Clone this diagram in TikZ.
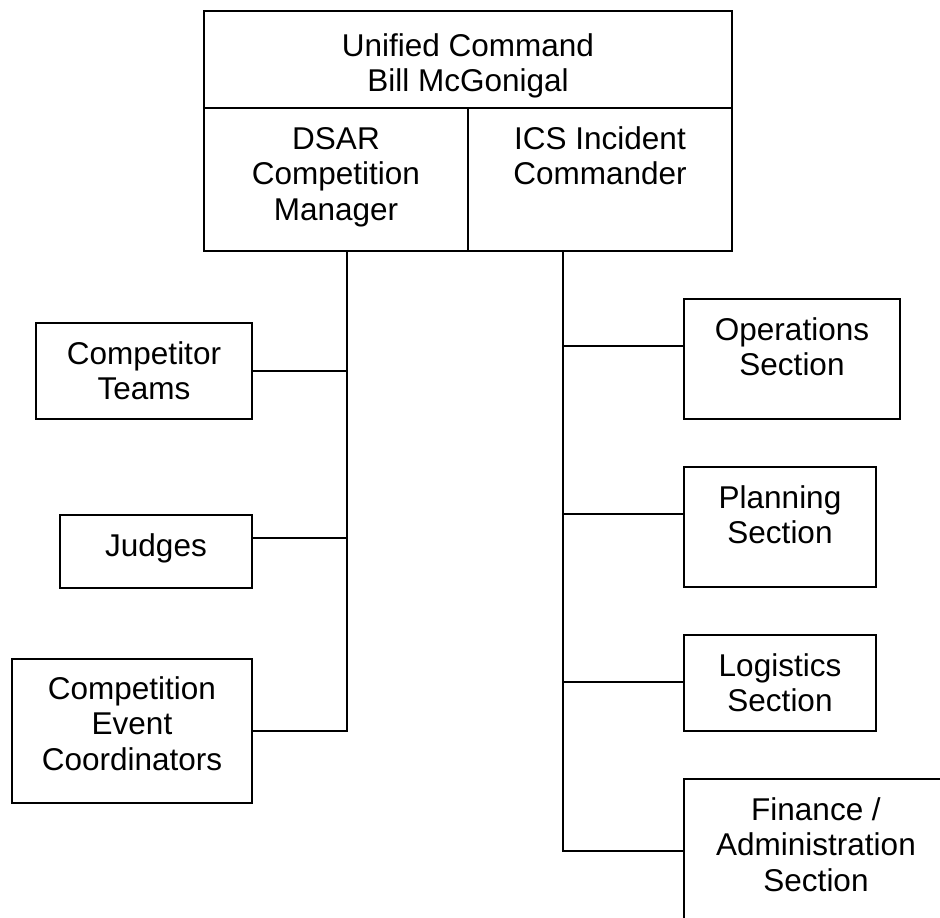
\documentclass[tikz,border=0pt]{standalone}
\usepackage{fontspec}
\setmainfont{Liberation Sans}

% box text: [first baseline]{width}{height}{text}
\newcommand{\orgtext}[4][41]{\parbox[c][#3pt][t]{#2pt}{\centering\rule{0pt}{#1pt}#4}}

\begin{document}
\begin{tikzpicture}[x=1pt, y=-1pt,
  unit/.style={draw, line width=2pt, inner sep=0pt, anchor=north west,
               font=\fontsize{31.5}{35.5}\selectfont},
  trunk/.style={line width=1.8pt},
  branch/.style={line width=1.3pt}]

\useasboundingbox (0,0) rectangle (940,918);

% command
\node[unit](uc) at (203,10) {\orgtext[45]{528}{97}{Unified Command\\Bill McGonigal}};
\node[unit](dsar) at (203,107) {\orgtext{264}{143}{DSAR\\Competition\\Manager}};
\node[unit](ics) at (467,107) {\orgtext{264}{143}{ICS Incident\\Commander}};

% competition side
\node[unit](teams) at (35,322) {\orgtext{216}{96}{Competitor\\Teams}};
\node[unit](judges) at (59,514) {\orgtext{192}{73}{Judges}};
\node[unit](coord) at (11,658) {\orgtext[40]{240}{144}{Competition\\Event\\Coordinators}};

% ICS sections
\node[unit](ops) at (683,298) {\orgtext{216}{120}{Operations\\Section}};
\node[unit](plan) at (683,466) {\orgtext{192}{120}{Planning\\Section}};
\node[unit](logi) at (683,634) {\orgtext{192}{96}{Logistics\\Section}};
\node[unit](fin) at (683,778) {\orgtext{264}{144}{Finance /\\Administration\\Section}};

\coordinate (dtop) at (347,250);
\coordinate (d1) at (347,371);
\coordinate (d2) at (347,538);
\coordinate (itop) at (563,250);
\coordinate (i1) at (563,346);
\coordinate (i2) at (563,514);
\coordinate (i3) at (563,682);

\draw[trunk] (dtop) |- (coord.east);
\draw[branch] (d1) -- (teams.east |- d1);
\draw[branch] (d2) -- (judges.east |- d2);

\draw[trunk] (itop) |- (fin.west);
\draw[branch] (i1) -- (ops.west |- i1);
\draw[branch] (i2) -- (plan.west |- i2);
\draw[branch] (i3) -- (logi.west |- i3);

\end{tikzpicture}
\end{document}
